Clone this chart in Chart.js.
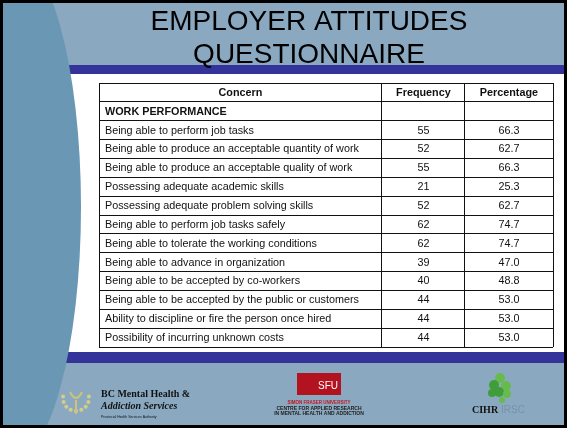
<!DOCTYPE html>
<html><head><meta charset="utf-8">
<script src="https://cdn.jsdelivr.net/npm/chart.js@4/dist/chart.umd.min.js"></script>
<style>html,body{margin:0;padding:0;background:#fff;overflow:hidden}canvas{display:block}</style>
</head><body>
<canvas id="c" width="567" height="428" style="width:567px;height:428px"></canvas>
<script>
const titleLines = ['EMPLOYER ATTITUDES', 'QUESTIONNAIRE'];
const columnHeaders = ['Concern', 'Frequency', 'Percentage'];
const sectionLabel = 'WORK PERFORMANCE';
const concerns = [
  'Being able to perform job tasks',
  'Being able to produce an acceptable quantity of work',
  'Being able to produce an acceptable quality of work',
  'Possessing adequate academic skills',
  'Possessing adequate problem solving skills',
  'Being able to perform job tasks safely',
  'Being able to tolerate the working conditions',
  'Being able to advance in organization',
  'Being able to be accepted by co-workers',
  'Being able to be accepted by the public or customers',
  'Ability to discipline or fire the person once hired',
  'Possibility of incurring unknown costs'
];
const frequency = [55, 52, 55, 21, 52, 62, 62, 39, 40, 44, 44, 44];
const percentage = [66.3, 62.7, 66.3, 25.3, 62.7, 74.7, 74.7, 47.0, 48.8, 53.0, 53.0, 53.0];
const logoTexts = {
  bc: ['BC Mental Health &', 'Addiction Services', 'Provincial Health Services Authority'],
  sfu: ['SFU', 'SIMON FRASER UNIVERSITY', 'CENTRE FOR APPLIED RESEARCH', 'IN MENTAL HEALTH AND ADDICTION'],
  cihr: ['CIHR', 'IRSC']
};

// layout / style (not data)
const colBounds = [0, 62.3, 80.6, 100];
const FONT = '"Liberation Sans", Arial, sans-serif';
const TXT = 10.8;

const rowLabels = [columnHeaders[0], sectionLabel, ...concerns];

const slidePlugin = {
  id: 'slide',
  beforeDraw(chart) {
    const ctx = chart.ctx;
    ctx.save();
    ctx.fillStyle = '#8aa9c1';
    ctx.fillRect(0, 0, 567, 428);
    ctx.fillStyle = '#ffffff';
    ctx.fillRect(0, 74, 567, 278);
    ctx.fillStyle = '#333399';
    ctx.fillRect(0, 65, 567, 9);
    ctx.fillRect(0, 352, 567, 11);
    // left curve
    ctx.fillStyle = '#6a98b4';
    ctx.beginPath();
    ctx.ellipse(10, 207, 71, 256, 0, 0, Math.PI * 2);
    ctx.fill();
    // title
    ctx.fillStyle = '#000';
    ctx.font = '28px ' + FONT;
    ctx.textAlign = 'center';
    ctx.textBaseline = 'alphabetic';
    ctx.fillText(titleLines[0], 309, 30);
    ctx.fillText(titleLines[1], 309, 63);
    // BC logo
    ctx.fillStyle = '#d6cd86';
    for (let k = 0; k < 9; k++) {
      const a = -Math.PI / 2 + (k - 4) * 0.42;
      ctx.beginPath();
      ctx.arc(76 + 13 * Math.cos(a + Math.PI), 398 + 13 * Math.sin(a + Math.PI), 2, 0, Math.PI * 2);
      ctx.fill();
    }
    ctx.strokeStyle = '#cfc37a';
    ctx.lineWidth = 2;
    ctx.beginPath();
    ctx.moveTo(70, 392); ctx.quadraticCurveTo(76, 404, 82, 392);
    ctx.moveTo(76, 400); ctx.lineTo(76, 414);
    ctx.stroke();
    ctx.fillStyle = '#111';
    ctx.textAlign = 'left';
    ctx.font = 'bold 10px "Liberation Serif", serif';
    ctx.fillText(logoTexts.bc[0], 101, 397);
    ctx.font = 'italic bold 10px "Liberation Serif", serif';
    ctx.fillText(logoTexts.bc[1], 101, 409);
    ctx.font = '3.5px ' + FONT;
    ctx.fillText(logoTexts.bc[2], 101, 418);
    // SFU logo
    ctx.fillStyle = '#b3131f';
    ctx.fillRect(297, 373, 44, 22);
    ctx.fillStyle = '#fff';
    ctx.textAlign = 'center';
    ctx.font = '10px ' + FONT;
    ctx.fillText(logoTexts.sfu[0], 328, 389);
    ctx.fillStyle = '#c0141e';
    ctx.font = 'bold 4.5px ' + FONT;
    ctx.fillText(logoTexts.sfu[1], 319, 404);
    ctx.fillStyle = '#222';
    ctx.font = 'bold 5px ' + FONT;
    ctx.fillText(logoTexts.sfu[2], 319, 410);
    ctx.fillText(logoTexts.sfu[3], 319, 415);
    // CIHR logo
    const leaves = [[500, 378, 5], [494, 385, 5], [506, 386, 5], [499, 392, 5], [507, 394, 4], [492, 393, 4], [502, 400, 3]];
    leaves.forEach(([x, y, r], i) => {
      ctx.fillStyle = i % 2 ? '#3f9d3a' : '#67bb4c';
      ctx.beginPath(); ctx.arc(x, y, r, 0, Math.PI * 2); ctx.fill();
    });
    ctx.textAlign = 'left';
    ctx.fillStyle = '#111';
    ctx.font = 'bold 10px "Liberation Serif", serif';
    ctx.fillText(logoTexts.cihr[0], 472, 413);
    ctx.fillStyle = '#7890a8';
    ctx.font = '10px ' + FONT;
    ctx.fillText(logoTexts.cihr[1], 501, 413);
    // slide border
    ctx.strokeStyle = '#000';
    ctx.lineWidth = 3;
    ctx.strokeRect(1.5, 1.5, 564, 425);
    ctx.restore();
  },
  afterDraw(chart) {
    const ctx = chart.ctx;
    const xs = chart.scales.x, ys = chart.scales.y;
    const left = xs.getPixelForValue(colBounds[0]);
    const c1 = (xs.getPixelForValue(colBounds[0]) + xs.getPixelForValue(colBounds[1])) / 2;
    const c2 = (xs.getPixelForValue(colBounds[1]) + xs.getPixelForValue(colBounds[2])) / 2;
    const c3 = (xs.getPixelForValue(colBounds[2]) + xs.getPixelForValue(colBounds[3])) / 2;
    ctx.save();
    ctx.fillStyle = '#111';
    ctx.textBaseline = 'middle';
    rowLabels.forEach((lab, i) => {
      const y = ys.getPixelForValue(i) + 0.5;
      if (i === 0) {
        ctx.font = 'bold ' + TXT + 'px ' + FONT;
        ctx.textAlign = 'center';
        ctx.fillText(columnHeaders[0], c1, y);
        ctx.fillText(columnHeaders[1], c2, y);
        ctx.fillText(columnHeaders[2], c3, y);
      } else if (i === 1) {
        ctx.font = 'bold ' + TXT + 'px ' + FONT;
        ctx.textAlign = 'left';
        ctx.fillText(lab, left + 6, y);
      } else {
        ctx.font = TXT + 'px ' + FONT;
        ctx.textAlign = 'left';
        ctx.fillText(lab, left + 6, y);
        ctx.textAlign = 'center';
        const f = chart.data.datasets[0].data[i];
        const p = chart.data.datasets[1].data[i];
        ctx.fillText(String(f), c2, y);
        ctx.fillText(p.toFixed(1), c3, y);
      }
    });
    ctx.restore();
  }
};

new Chart(document.getElementById('c'), {
  type: 'bar',
  data: {
    labels: rowLabels,
    datasets: [
      { label: columnHeaders[1], data: [null, null, ...frequency], backgroundColor: 'rgba(0,0,0,0)', borderWidth: 0 },
      { label: columnHeaders[2], data: [null, null, ...percentage], backgroundColor: 'rgba(0,0,0,0)', borderWidth: 0 }
    ]
  },
  options: {
    indexAxis: 'y',
    responsive: false,
    animation: false,
    devicePixelRatio: 1,
    events: [],
    layout: { padding: { top: 83, bottom: 81, left: 99, right: 14 } },
    plugins: { legend: { display: false }, title: { display: false }, tooltip: { enabled: false } },
    scales: {
      x: {
        type: 'linear', min: 0, max: 100,
        afterBuildTicks: (s) => { s.ticks = colBounds.map(v => ({ value: v })); },
        ticks: { display: false },
        grid: { color: '#111', lineWidth: 1, drawTicks: false },
        border: { display: false }
      },
      y: {
        type: 'category', offset: true,
        ticks: { display: false },
        grid: { offset: true, color: '#111', lineWidth: 1, drawTicks: false },
        border: { display: false }
      }
    }
  },
  plugins: [slidePlugin]
});
</script>
</body></html>
